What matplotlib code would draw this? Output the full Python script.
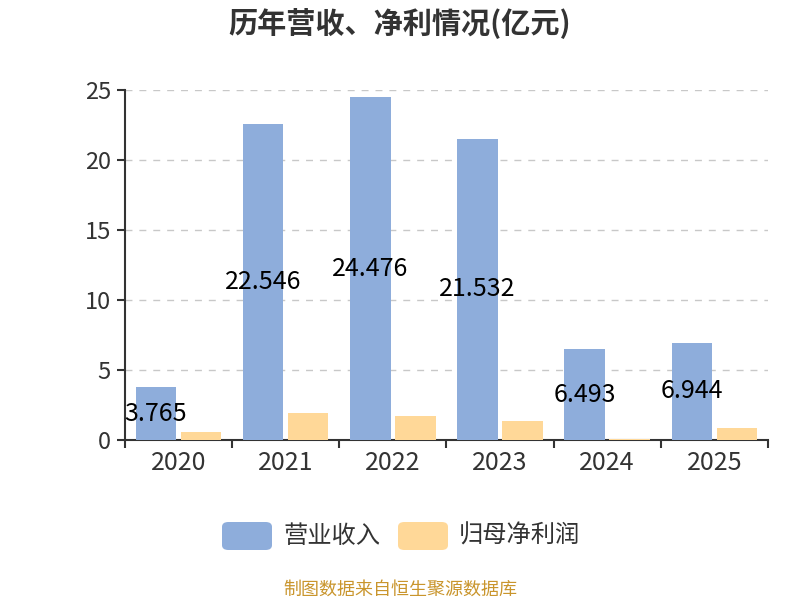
import matplotlib
matplotlib.use("Agg")
import matplotlib.pyplot as plt
import numpy as np
from matplotlib.patches import FancyBboxPatch

plt.rcParams['font.family'] = ['Noto Sans CJK SC', 'DejaVu Sans']

# data
years = ['2020', '2021', '2022', '2023', '2024', '2025']
revenue = [3.765, 22.546, 24.476, 21.532, 6.493, 6.944]
net_profit = [0.59, 1.91, 1.69, 1.38, 0.07, 0.88]
revenue_labels = ['3.765', '22.546', '24.476', '21.532', '6.493', '6.944']

blue = '#8eaddb'
orange = '#ffd898'
dark = '#333333'

fig = plt.figure(figsize=(8, 6), dpi=100)
ax = fig.add_axes([0.156, 0.2667, 0.804, 0.5833])

x = np.arange(len(years))
w = 0.38
ax.bar(x - 0.21, revenue, w, color=blue, zorder=3)
ax.bar(x + 0.21, net_profit, w, color=orange, zorder=3)

# value labels in the middle of the revenue bars
for xi, v, lab in zip(x, revenue, revenue_labels):
    ax.text(xi - 0.21, v / 2, lab, ha='center', va='center', fontsize=18,
            color='black', zorder=4)

ax.set_xlim(-0.5, len(years) - 0.5)
ax.set_ylim(0, 25)
ax.set_yticks([0, 5, 10, 15, 20, 25])
ax.yaxis.grid(True, linestyle=(0, (5, 5)), color='#c8c8c8', linewidth=1, zorder=0)
ax.set_axisbelow(True)

ax.set_xticks(x)
ax.set_xticklabels(years)
ax.set_xticks(np.arange(-0.5, len(years)), minor=True)
ax.tick_params(axis='x', which='major', length=0, labelsize=18, labelcolor=dark, pad=7)
ax.tick_params(axis='x', which='minor', length=6, width=1.5, color=dark)
ax.tick_params(axis='y', length=6, width=1.5, color=dark, labelsize=17, labelcolor=dark, pad=4)

for s in ['top', 'right']:
    ax.spines[s].set_visible(False)
for s in ['left', 'bottom']:
    ax.spines[s].set_color(dark)
    ax.spines[s].set_linewidth(1.5)

fig.text(0.5, 0.962, '历年营收、净利情况(亿元)', ha='center', va='center',
         fontsize=21, fontweight='bold', color=dark)

# legend
legend_items = [('营业收入', blue, 222), ('归母净利润', orange, 398)]
for name, col, px in legend_items:
    box = FancyBboxPatch((px / 800, 1 - 550 / 600), 50 / 800, 28 / 600,
                         boxstyle='round,pad=0,rounding_size=0.008',
                         transform=fig.transFigure, facecolor=col,
                         edgecolor='none')
    fig.patches.append(box)
    fig.text((px + 61) / 800, 1 - 536 / 600, name, ha='left', va='center',
             fontsize=17.5, color=dark)

fig.text(0.5, 1 - 590 / 600, '制图数据来自恒生聚源数据库', ha='center', va='center',
         fontsize=13, color='#c9952c')

plt.savefig('out.png', dpi=100)
